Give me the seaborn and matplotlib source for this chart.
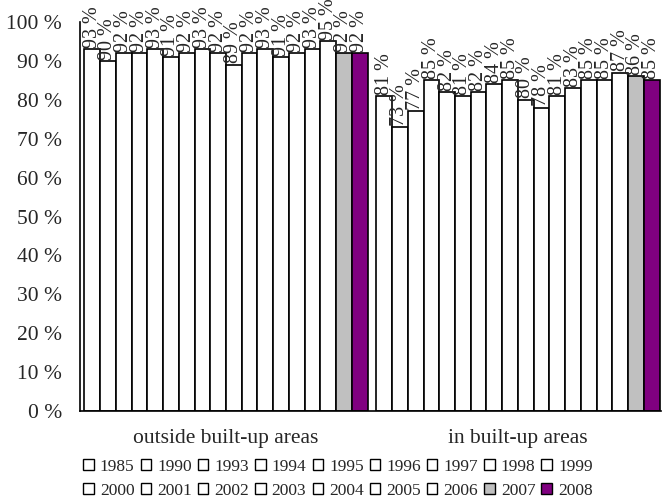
import matplotlib
matplotlib.use("Agg")
import matplotlib.pyplot as plt
import pandas as pd
import seaborn as sns
from matplotlib.patches import Patch

areas = ["outside built-up areas", "in built-up areas"]
years = ["1985", "1990", "1993", "1994", "1995", "1996", "1997", "1998", "1999",
         "2000", "2001", "2002", "2003", "2004", "2005", "2006", "2007", "2008"]
outside = [93, 90, 92, 92, 93, 91, 92, 93, 92, 89, 92, 93, 91, 92, 93, 95, 92, 92]
inside = [81, 73, 77, 85, 82, 81, 82, 84, 85, 80, 78, 81, 83, 85, 85, 87, 86, 85]

colors = {y: "white" for y in years}
colors["2007"] = "#c0c0c0"
colors["2008"] = "#800080"

rows = []
for area, vals in zip(areas, [outside, inside]):
    for y, v in zip(years, vals):
        rows.append({"area": area, "year": y, "value": v})
df = pd.DataFrame(rows)

sns.set_style("white")
plt.rcParams["font.family"] = ["Liberation Serif", "DejaVu Serif"]

fig = plt.figure(figsize=(6.62, 5.04), dpi=100)
ax = fig.add_axes([80 / 662, 1 - 411 / 504, 581 / 662, 389 / 504])

sns.barplot(data=df, x="area", y="value", hue="year", order=areas, hue_order=years,
            palette=colors, saturation=1, edgecolor="black", linewidth=1.2, width=0.97,
            legend=False, ax=ax)

for cont in ax.containers:
    ax.bar_label(cont, labels=[f"{v:.0f} %" for v in cont.datavalues],
                 rotation=90, padding=1, fontsize=14.5, clip_on=False)

ax.set_ylim(0, 100)
ax.set_xlim(-0.5, 1.49)
ax.set_yticks(range(0, 101, 10))
ax.set_yticklabels([f"{t} %" for t in range(0, 101, 10)], fontsize=15.5)
ax.tick_params(axis="both", length=0)
ax.tick_params(axis="y", pad=13)
ax.tick_params(axis="x", pad=13, labelsize=15.5)
ax.set_xlabel("")
ax.set_ylabel("")
for side in ["top", "right"]:
    ax.spines[side].set_visible(False)
for side in ["left", "bottom"]:
    ax.spines[side].set_color("black")
    ax.spines[side].set_linewidth(1.2)

handles = [Patch(facecolor=colors[y], edgecolor="black", linewidth=1.0, label=y) for y in years]
order = []
for i in range(9):
    order += [i, i + 9]
leg = fig.legend([handles[i] for i in order], [years[i] for i in order],
                 loc="center", bbox_to_anchor=(338 / 662, 1 - 479 / 504), ncol=9,
                 frameon=False, fontsize=12.5, handlelength=0.6, handleheight=0.6,
                 handletextpad=0.35, columnspacing=0.35, labelspacing=0.45, borderpad=0)

fig.savefig("out.png", dpi=100)
